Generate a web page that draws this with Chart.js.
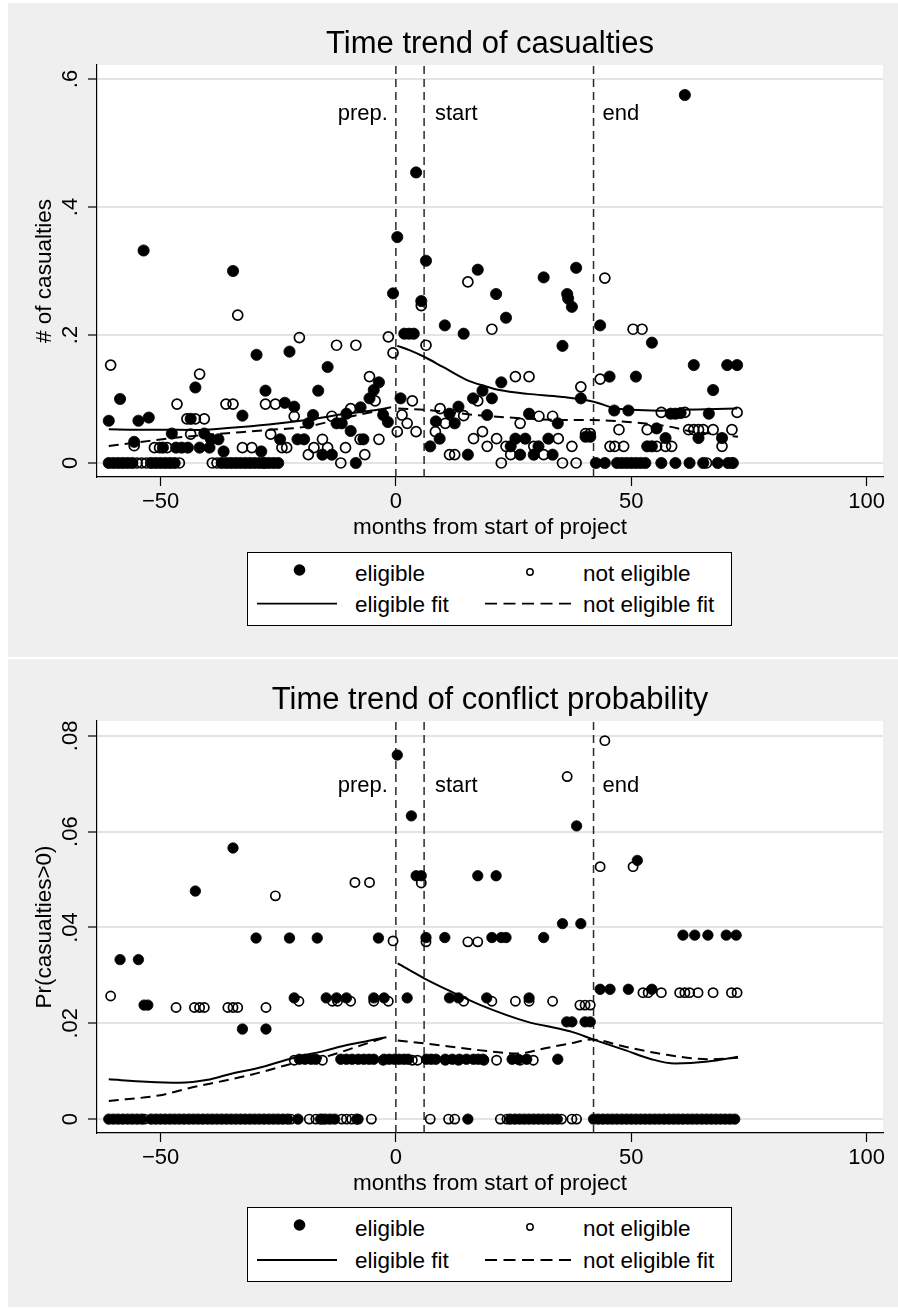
<!DOCTYPE html>
<html>
<head>
<meta charset="utf-8">
<script src="https://cdn.jsdelivr.net/npm/chart.js"></script>
<style>
  body { margin: 0; background: #fff; width: 898px; height: 1308px; position: relative; overflow: hidden; }
  .panel { position: absolute; left: 8px; width: 890px; background: #efefef; }
  .panel canvas { position: absolute; left: 0; top: 0; }
  .legend { position: absolute; left: 239px; font-family: "Liberation Sans", Arial, Helvetica, sans-serif; font-size: 22.5px; }
</style>
</head>
<body>
<div class="panel" style="top:3px;height:654px">
  <canvas id="casChart" width="890" height="654"></canvas>
  <svg class="legend" id="casLegend" style="top:549px" width="485" height="74"></svg>
</div>
<div class="panel" style="top:659px;height:648px">
  <canvas id="probChart" width="890" height="648"></canvas>
  <svg class="legend" id="probLegend" style="top:548px" width="485" height="75"></svg>
</div>
<script>
// Stata-style "time trend" scatter + lowess fits, two panels

const FONT = '"Liberation Sans", Arial, Helvetica, sans-serif';

// shared x axis
const xMin = -63.5, xMax = 103.5;
const xTicks = [-50, 0, 50, 100];
const xTickLabels = ["\u221250", "0", "50", "100"];
const eventMonths = [0, 6, 42];
const eventLabels = ["prep.", "start", "end"];
const eventLabelX = [-1.7, 8.3, 43.9];
const legendLabels = ["eligible", "not eligible", "eligible fit", "not eligible fit"];

// ---- panel 1: casualties ----
const casYTicks = [0, 0.2, 0.4, 0.6];
const casYTickLabels = ["0", ".2", ".4", ".6"];

const casEligible = [
  [-61,0.066],[-58.6,0.1],[-55.6,0.033],[-54.7,0.066],[-53.6,0.332],[-52.5,0.071],[-49.5,0.024],[-47.6,0.046],
  [-46.7,0.024],[-45.5,0.024],[-44.2,0.024],[-43.6,0.069],[-42.6,0.118],[-41.7,0.024],[-40.7,0.046],[-39.6,0.024],
  [-39.3,0.037],[-37.7,0.037],[-36.6,0.018],[-34.6,0.3],[-32.6,0.074],[-29.6,0.169],[-28.6,0.018],[-27.7,0.113],
  [-24.6,0.037],[-23.6,0.094],[-22.6,0.174],[-21.6,0.088],[-20.9,0.037],[-19.5,0.037],[-18.6,0.062],[-17.6,0.075],
  [-16.5,0.113],[-15.6,0.013],[-14.5,0.15],[-13.6,0.013],[-12.6,0.062],[-11.5,0.062],[-10.5,0.077],[-9.6,0.05],
  [-7.5,0.087],[-6.9,0.037],[-5.6,0.101],[-4.7,0.114],[-3.6,0.126],[-2.7,0.075],[-1.7,0.064],[-0.6,0.265],
  [0.3,0.353],[1,0.101],[1.8,0.202],[2.8,0.202],[3.8,0.202],[4.3,0.454],[5.4,0.253],[6.4,0.316],[7.3,0.026],
  [8.5,0.065],[9.3,0.038],[10.4,0.215],[11.4,0.077],[12.5,0.062],[13.3,0.088],[14.4,0.202],[15.3,0.013],
  [16.4,0.101],[17.4,0.302],[18.4,0.113],[19.4,0.075],[20.4,0.101],[21.3,0.264],[22.4,0.126],[23.4,0.227],
  [24.4,0.026],[25.4,0.038],[26.4,0.013],[27.5,0.038],[28.3,0.077],[29.3,0.013],[30.3,0.026],[31.4,0.29],
  [32.4,0.038],[33.3,0.013],[34.4,0.062],[35.4,0.183],[36.4,0.264],[36.6,0.257],[37.4,0.244],[38.3,0.305],
  [39.3,0.101],[40.3,0.041],[41.3,0.041],[43.4,0.215],[45.4,0.135],[46.4,0.082],[49.4,0.082],[51,0.135],
  [53.4,0.026],[54.4,0.026],[54.4,0.188],[55.4,0.054],[57.3,0.039],[58.4,0.077],[59.4,0.077],[60.5,0.078],
  [61.4,0.575],[63.3,0.153],[64.3,0.039],[66.5,0.077],[67.4,0.114],[69.3,0.039],[70.4,0.153],[72.5,0.153]
];
const casEligibleZeroMonths = [-61,-60,-59,-58,-57,-56,-52,-51,-50,-49,-48,-47,-37,-36,-35,-34,-33,-32,-31,-30,
  -29,-28,-27,-26,-25,-8.5,42.5,44.4,47,48,49,50,51,52,53,56.4,59.4,62.4,65.3,68.4,70.6,71.6];

const casNotEligible = [
  [-60.6,0.153],[-55.6,0.027],[-51.3,0.024],[-50.2,0.024],[-48.6,0.024],[-46.5,0.092],[-44.4,0.069],[-43.6,0.045],
  [-42.6,0.069],[-41.7,0.139],[-40.7,0.069],[-36.1,0.092],[-34.6,0.092],[-33.6,0.231],[-32.6,0.024],[-30.6,0.024],
  [-27.7,0.092],[-26.6,0.045],[-25.6,0.092],[-24.2,0.024],[-23.2,0.024],[-21.6,0.073],[-20.5,0.196],[-18.6,0.013],
  [-17.4,0.024],[-15.6,0.037],[-14.5,0.024],[-13.6,0.073],[-12.6,0.184],[-10.7,0.024],[-9.6,0.085],[-8.5,0.184],
  [-7.6,0.037],[-6.6,0.013],[-5.6,0.135],[-4.4,0.097],[-3.6,0.037],[-1.6,0.197],[-0.6,0.172],[0.3,0.049],
  [1.3,0.075],[2.4,0.062],[3.5,0.097],[4.3,0.049],[5.4,0.246],[6.4,0.184],[8.4,0.049],[9.4,0.085],[10.5,0.062],
  [11.4,0.013],[12.5,0.013],[14.4,0.074],[15.3,0.283],[16.5,0.038],[17.4,0.097],[18.4,0.049],[19.4,0.026],
  [20.4,0.209],[21.4,0.038],[23.4,0.026],[24.4,0.013],[25.4,0.135],[26.4,0.062],[28.3,0.135],[29.3,0.026],
  [30.4,0.073],[31.4,0.013],[33.3,0.073],[34.5,0.038],[37.4,0.026],[39.3,0.119],[40.3,0.046],[41.3,0.046],
  [43.4,0.131],[44.4,0.289],[45.5,0.026],[46.5,0.026],[47.4,0.052],[48.4,0.026],[50.4,0.209],[52.3,0.209],
  [53.4,0.052],[55.4,0.026],[56.4,0.079],[57.3,0.026],[58.6,0.026],[61.4,0.079],[62.2,0.052],[63.3,0.052],
  [64.3,0.052],[65.3,0.052],[67.4,0.052],[69.3,0.026],[71.4,0.052],[72.5,0.079]
];
const casNotEligibleZeroMonths = [-55,-54,-53,-46,-39,-38,-28,-11.7,22.4,35.4,38.3,66,71.4];

const casEligibleFitPre = [[-61,0.0526],[-55,0.052],[-50,0.052],[-43,0.0516],[-35,0.055],[-27,0.06],[-19,0.067],[-10,0.0776],[-5,0.082],[-1,0.087]];
const casEligibleFitPost = [[0.3,0.183],[3,0.176],[6,0.166],[10,0.15],[15,0.13],[19,0.12],[22,0.114],[28,0.108],[35,0.1036],[42,0.0958],[46.6,0.0854],[50,0.083],[56,0.0818],[60,0.083],[66,0.084],[72.5,0.085]];
const casNotEligibleFitPre = [[-61,0.0266],[-55,0.032],[-48,0.0386],[-40,0.044],[-33,0.048],[-27,0.0516],[-19,0.0568],[-10,0.072],[-2,0.084]];
const casNotEligibleFitPost = [[0.5,0.085],[6.4,0.083],[17,0.075],[27,0.0698],[36,0.067],[42,0.067],[48.7,0.0645],[54,0.061],[58,0.057],[63,0.049],[68,0.045],[72.7,0.041]];

// ---- panel 2: conflict probability ----
const probYTicks = [0, 0.02, 0.04, 0.06, 0.08];
const probYTickLabels = ["0", ".02", ".04", ".06", ".08"];

const probEligible = [
  [-58.6,0.0333],[-54.7,0.0333],[-53.5,0.0238],[-52.7,0.0238],[-42.6,0.0476],[-34.6,0.0566],[-32.6,0.0188],
  [-29.7,0.0378],[-27.6,0.0188],[-22.6,0.0378],[-21.6,0.0253],[-16.7,0.0378],[-14.8,0.0253],[-12.6,0.0253],
  [-10.5,0.0253],[-4.7,0.0253],[-3.7,0.0378],[-2.5,0.0253],[0.3,0.076],
  [-20.5,0.0125],[-19.3,0.0125],[-18,0.0125],[-17,0.0125],[-11.7,0.0125],[-10.5,0.0125],[-9.3,0.0125],[-8,0.0125],
  [-6.8,0.0125],[-5.7,0.0125],[-4.7,0.0125],[-2.5,0.0125],[-1.4,0.0125],[-0.3,0.0125],[0.7,0.0125],[1.7,0.0125],
  [2.6,0.0125],[6.5,0.0125],[7.5,0.0125],[8.5,0.0125],[10.5,0.0125],[12,0.0125],[13.5,0.0125],[15,0.0125],
  [16.5,0.0125],[17.5,0.0125],[18.5,0.0125],[24.7,0.0125],[26,0.0125],[27.8,0.0125],[34.4,0.0125],
  [2.4,0.0253],[3.3,0.0633],[4.3,0.0508],[5.4,0.0508],[6.4,0.0379],[10.4,0.0379],[11.4,0.0253],[13.3,0.0253],
  [17.4,0.0508],[19.3,0.0253],[20.4,0.0379],[21.3,0.0508],[22.4,0.0379],[23.4,0.0379],[28.3,0.0253],[31.4,0.0379],
  [35.4,0.0408],[36.3,0.0203],[37.4,0.0203],[38.4,0.0612],[39.3,0.0408],[40.2,0.0203],[41.3,0.0203],
  [43.4,0.0271],[45.5,0.0271],[49.4,0.0271],[51.3,0.054],[54.4,0.0271],[61,0.0384],[63.5,0.0384],[66.3,0.0384],
  [70.2,0.0384],[72.3,0.0384]
];
const probEligibleZeroMonths = [-61,-60,-59,-58,-57,-56,-55,-54,-52,-51,-50,-49,-48,-47,-46,-45,-44,-43,-42,-41,
  -40,-39,-38,-37,-36,-35,-34,-33,-32,-31,-30,-29,-28,-27,-26,-25,-24,-23,-20.8,-16,-15,-14,-13,-8.3,15.3,
  24.3,25.3,26.3,27.3,28.3,29.3,30.3,31.3,32.3,33.3,34.3,42,43,44,45,46,47,48,49,50,51,52,53,54,55,56,57,58,
  59,60,61,62,63,64,65,66,67,68,69,70,71,72];

const probNotEligible = [
  [-60.6,0.0257],[-46.7,0.0233],[-42.8,0.0233],[-41.7,0.0233],[-40.7,0.0233],[-35.7,0.0233],[-34.6,0.0233],
  [-33.6,0.0233],[-27.6,0.0233],[-25.6,0.0466],[-20.6,0.0246],[-13.5,0.0246],[-12.4,0.0246],[-9.6,0.0246],
  [-8.7,0.0494],[-5.6,0.0494],[-4.7,0.0246],[-1.6,0.0246],[-0.6,0.0372],
  [-21.6,0.0123],[-15.6,0.0123],[-2.7,0.0123],[3.5,0.0123],[4.6,0.0123],[10.5,0.0123],[13.3,0.0123],
  [18.7,0.0123],[21.4,0.0123],[26.4,0.0123],[29.2,0.0123],
  [5.4,0.0493],[6.4,0.037],[14.4,0.0246],[15.3,0.037],[17.4,0.037],[20.4,0.0246],[25.4,0.0246],[28.3,0.0246],
  [33.3,0.0246],[36.4,0.0715],[39.1,0.0238],[40.2,0.0238],[41.3,0.0238],[43.4,0.0527],[44.4,0.079],[50.4,0.0527],
  [52.5,0.0264],[53.6,0.0264],[56.4,0.0264],[60.3,0.0264],[61.4,0.0264],[62.4,0.0264],[64.2,0.0264],
  [67.4,0.0264],[71.3,0.0264],[72.5,0.0264]
];
const probNotEligibleZeroMonths = [-53.4,-22.3,-18.4,-17,-15.6,-11.5,-10.5,-9.4,-8,-5.2,7.3,11.2,12.5,22.2,23.6,35.2,37.4,38.4];

const probEligibleFitPre = [[-61,0.0083],[-53,0.0078],[-46,0.0076],[-40,0.0082],[-36,0.0092],[-28,0.011],[-22,0.0127],[-15,0.0143],[-11,0.0153],[-6,0.0163],[-2,0.0171]];
const probEligibleFitPost = [[0.4,0.0325],[6,0.0294],[12,0.0265],[18,0.0238],[28,0.0203],[34.5,0.0189],[37.4,0.0182],[42,0.0166],[48.7,0.0144],[54.3,0.0125],[59.3,0.0116],[66.3,0.012],[72.7,0.013]];
const probNotEligibleFitPre = [[-61,0.0038],[-50,0.005],[-43,0.0067],[-36,0.0081],[-29,0.0097],[-22,0.0116],[-15,0.013],[-8,0.0152],[-4,0.0165],[-2,0.0172]];
const probNotEligibleFitPost = [[0.4,0.0164],[6,0.0158],[17.6,0.0144],[26,0.0137],[31.7,0.0148],[37,0.0158],[41.6,0.0166],[48.7,0.0151],[55.9,0.0137],[66.3,0.0125],[72.7,0.0128]];

// ---------------------------------------------------------------

const pts = pairs => pairs.map(p => ({ x: p[0], y: p[1] }));
const zeros = months => months.map(m => ({ x: m, y: 0 }));

// white plot region, centred title and the phase labels
const stataDecor = {
  id: "stataDecor",
  beforeDraw(chart) {
    const { ctx, chartArea: a } = chart;
    ctx.save();
    ctx.fillStyle = "#fff";
    ctx.fillRect(a.left, a.top, a.right - a.left, a.bottom - a.top);
    ctx.restore();
  },
  afterDraw(chart, args, opts) {
    const { ctx, chartArea: a, scales } = chart;
    ctx.save();
    ctx.fillStyle = "#000";
    ctx.textBaseline = "alphabetic";
    ctx.font = "31px " + FONT;
    ctx.textAlign = "center";
    ctx.fillText(opts.title, (a.left + a.right) / 2, opts.titleBaseline);
    ctx.font = "22px " + FONT;
    eventLabels.forEach((t, i) => {
      ctx.textAlign = i === 0 ? "right" : "left";
      ctx.fillText(t, scales.x.getPixelForValue(eventLabelX[i]), scales.y.getPixelForValue(opts.labelY));
    });
    ctx.restore();
  }
};

function makeChart(id, c) {
  const big = c.dotSize;
  const datasets = [
    { data: pts(c.elig).concat(zeros(c.eligZero)), pointRadius: big[0], pointBorderWidth: 0.8,
      pointBackgroundColor: "#000", pointBorderColor: "#000", order: 5 },
    { data: pts(c.notElig).concat(zeros(c.notEligZero)), pointRadius: big[1], pointBorderWidth: 1.7,
      pointBackgroundColor: "rgba(0,0,0,0)", pointBorderColor: "#000", order: 4 }
  ];
  [[c.fitPre, []], [c.fitPost, []], [c.nfitPre, [10, 6]], [c.nfitPost, [10, 6]]].forEach(([d, dash]) => {
    datasets.push({ data: pts(d), showLine: true, pointRadius: 0, borderColor: "#000", borderWidth: 2,
      borderDash: dash, cubicInterpolationMode: "monotone", order: 1 });
  });
  eventMonths.forEach(m => {
    datasets.push({ data: [{ x: m, y: c.yMin }, { x: m, y: c.yMax }], showLine: true, pointRadius: 0,
      borderColor: "#2a2a2a", borderWidth: 1.5, borderDash: [8, 5], order: 10 });
  });

  return new Chart(document.getElementById(id), {
    type: "scatter",
    data: { datasets },
    plugins: [stataDecor],
    options: {
      responsive: false,
      devicePixelRatio: 1,
      animation: false,
      events: [],
      layout: { padding: { left: 0, top: 62, right: 15, bottom: c.height - 474 - 64 }, autoPadding: false },
      plugins: {
        legend: { display: false },
        tooltip: { enabled: false },
        stataDecor: { title: c.title, titleBaseline: c.titleBaseline, labelY: c.labelY }
      },
      scales: {
        x: {
          type: "linear", min: xMin, max: xMax,
          afterBuildTicks: s => { s.ticks = xTicks.map(v => ({ value: v })); },
          afterFit: s => { s.height = 64; },
          ticks: { callback: (v, i) => xTickLabels[i], font: { family: FONT, size: 22 }, color: "#000",
            padding: 2.3, minRotation: 0, maxRotation: 0, autoSkip: false },
          grid: { drawOnChartArea: false, tickLength: 9, tickColor: "#000", tickWidth: 1.2 },
          border: { display: true, color: "#000", width: 1.2 },
          title: { display: true, text: "months from start of project", color: "#000",
            font: { family: FONT, size: 22.5 }, padding: { top: 0, bottom: 0 } }
        },
        y: {
          type: "linear", min: c.yMin, max: c.yMax,
          afterBuildTicks: s => { s.ticks = c.yTicks.map(v => ({ value: v })); },
          afterFit: s => { s.width = 89; },
          ticks: { callback: (v, i) => c.yTickLabels[i], font: { family: FONT, size: 22 }, color: "#000",
            padding: c.yTickPad, minRotation: 90, maxRotation: 90, crossAlign: "center", autoSkip: false },
          grid: { color: "#e4e4e4", lineWidth: 2, tickLength: 9, tickColor: "#000", tickWidth: 1.2 },
          border: { display: true, color: "#000", width: 1.2 },
          title: { display: true, text: c.yTitle, color: "#000",
            font: { family: FONT, size: 22.5 }, padding: { top: 23.2, bottom: 0 } }
        }
      }
    }
  });
}

function buildLegend(id, rowGap) {
  const svg = document.getElementById(id);
  const ns = "http://www.w3.org/2000/svg";
  const add = (tag, attrs, text) => {
    const el = document.createElementNS(ns, tag);
    Object.entries(attrs).forEach(([k, v]) => el.setAttribute(k, v));
    if (text) el.textContent = text;
    svg.appendChild(el);
  };
  const h = +svg.getAttribute("height");
  add("rect", { x: 0.5, y: 0.5, width: 484, height: h - 1, fill: "#fff", stroke: "#000", "stroke-width": 1 });
  add("circle", { cx: 52.5, cy: 18, r: 5.8, fill: "#000" });
  add("circle", { cx: 283, cy: 20, r: 3.2, fill: "none", stroke: "#000", "stroke-width": 1.5 });
  add("line", { x1: 10, y1: 28.5 + rowGap - 8, x2: 90, y2: 28.5 + rowGap - 8, stroke: "#000", "stroke-width": 1.8 });
  add("line", { x1: 238, y1: 28.5 + rowGap - 8, x2: 325, y2: 28.5 + rowGap - 8, stroke: "#000", "stroke-width": 1.8,
    "stroke-dasharray": "12 6.5" });
  add("text", { x: 108, y: 28.5 }, legendLabels[0]);
  add("text", { x: 336, y: 28.5 }, legendLabels[1]);
  add("text", { x: 108, y: 28.5 + rowGap }, legendLabels[2]);
  add("text", { x: 336, y: 28.5 + rowGap }, legendLabels[3]);
}

makeChart("casChart", {
  height: 654, title: "Time trend of casualties", titleBaseline: 50, labelY: 0.536,
  yTitle: "# of casualties", yMin: -0.0219, yMax: 0.6219, yTicks: casYTicks, yTickLabels: casYTickLabels,
  yTickPad: 7.6, dotSize: [5.6, 5],
  elig: casEligible, eligZero: casEligibleZeroMonths, notElig: casNotEligible, notEligZero: casNotEligibleZeroMonths,
  fitPre: casEligibleFitPre, fitPost: casEligibleFitPost, nfitPre: casNotEligibleFitPre, nfitPost: casNotEligibleFitPost
});

makeChart("probChart", {
  height: 648, title: "Time trend of conflict probability", titleBaseline: 49.5, labelY: 0.0682,
  yTitle: "Pr(casualties>0)", yMin: -0.0029, yMax: 0.0831, yTicks: probYTicks, yTickLabels: probYTickLabels,
  yTickPad: 1.5, dotSize: [5.2, 4.6],
  elig: probEligible, eligZero: probEligibleZeroMonths, notElig: probNotEligible, notEligZero: probNotEligibleZeroMonths,
  fitPre: probEligibleFitPre, fitPost: probEligibleFitPost, nfitPre: probNotEligibleFitPre, nfitPost: probNotEligibleFitPost
});

buildLegend("casLegend", 31.2);
buildLegend("probLegend", 32.5);
</script>
</body>
</html>
